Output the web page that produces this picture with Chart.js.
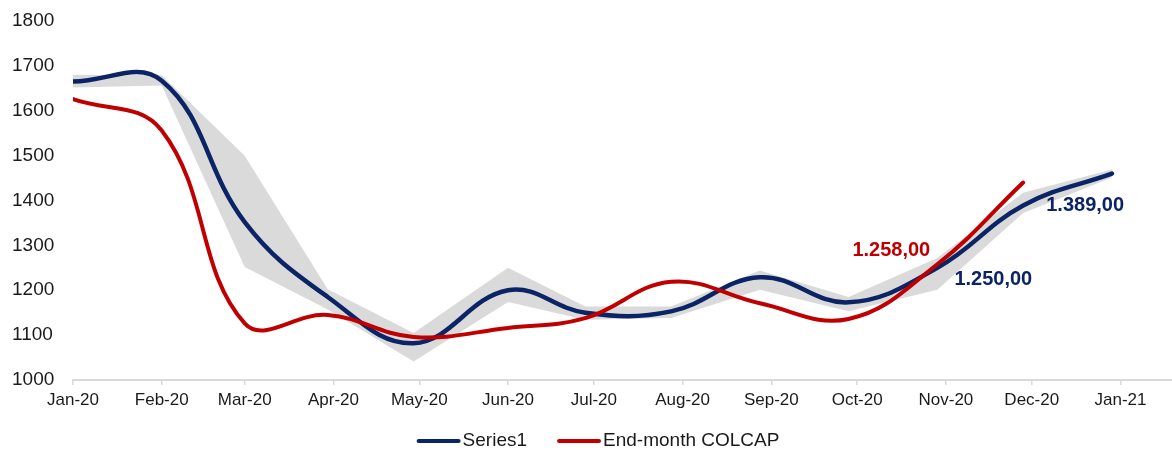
<!DOCTYPE html>
<html>
<head>
<meta charset="utf-8">
<script src="https://cdn.jsdelivr.net/npm/chart.js@4.4.1/dist/chart.umd.min.js"></script>
<style>
  html, body { margin: 0; padding: 0; background: #ffffff; }
  #wrap { width: 1172px; height: 450px; }
</style>
</head>
<body>
<div id="wrap"><canvas id="c" width="1172" height="450"></canvas></div>
<script>
// Observation dates (one per month) shared by every series
const pointDates = ['2020-01-01', '2020-02-01', '2020-03-01', '2020-03-30', '2020-04-29', '2020-06-01',
                    '2020-06-28', '2020-07-28', '2020-08-28', '2020-09-28', '2020-10-29', '2020-11-28', '2020-12-29'];

// Series values
const series1   = [1665, 1667, 1352, 1185, 1082, 1200, 1150, 1153, 1229, 1173, 1250, 1389, 1460];
const colcap    = [1626, 1556, 1126, 1145, 1096, 1116, 1138, 1219, 1171, 1136, 1258, 1440];
const rangeHigh = [1680, 1679, 1500, 1202, 1105, 1250, 1164, 1164, 1244, 1185, 1272, 1417, 1469];
const rangeLow  = [1652, 1656, 1252, 1157, 1041, 1174, 1134, 1138, 1201, 1153, 1201, 1372, 1451];

// Axis ticks
const tickDates  = ['2020-01-01', '2020-02-01', '2020-03-01', '2020-04-01', '2020-05-01', '2020-06-01', '2020-07-01',
                    '2020-08-01', '2020-09-01', '2020-10-01', '2020-11-01', '2020-12-01', '2021-01-01'];
const tickLabels = ['Jan-20', 'Feb-20', 'Mar-20', 'Apr-20', 'May-20', 'Jun-20', 'Jul-20',
                    'Aug-20', 'Sep-20', 'Oct-20', 'Nov-20', 'Dec-20', 'Jan-21'];
const yTicks = [1000, 1100, 1200, 1300, 1400, 1500, 1600, 1700, 1800];
const axisStart = '2020-01-01';
const axisEnd = '2021-01-19';

const NAVY = '#0b2466';
const RED = '#c00000';
const BAND = '#dadada';
const FONT = "'Liberation Sans', Arial, Helvetica, sans-serif";

const dayOf = s => (Date.parse(s) - Date.parse(axisStart)) / 86400000;
const toPoints = vals => vals.map((v, i) => ({ x: dayOf(pointDates[i]), y: v }));
const tickDays = tickDates.map(dayOf);

// Values shown as labels: [dataset index, point index, dx, dy, colour]
const valueLabels = [
  [1, 10, -46, -14, RED],
  [0, 10, 56, 12, NAVY],
  [0, 11, 62, 0, NAVY]
];

const fmt = v => {
  const [intPart, dec] = v.toFixed(2).split('.');
  return intPart.replace(/\B(?=(\d{3})+(?!\d))/g, '.') + ',' + dec;
};

const valueLabelPlugin = {
  id: 'valueLabels',
  afterDatasetsDraw(chart) {
    const ctx = chart.ctx;
    ctx.save();
    ctx.font = 'bold 20px ' + FONT;
    ctx.textAlign = 'center';
    ctx.textBaseline = 'middle';
    valueLabels.forEach(([di, pi, dx, dy, col]) => {
      const el = chart.getDatasetMeta(di).data[pi];
      const v = chart.data.datasets[di].data[pi].y;
      ctx.fillStyle = col;
      ctx.fillText(fmt(v), el.x + dx, el.y + dy);
    });
    ctx.restore();
  }
};

// Legend row under the axis: line sample followed by the series name
const legendPlugin = {
  id: 'lineLegend',
  afterDraw(chart) {
    const ctx = chart.ctx;
    const items = [0, 1].map(i => chart.data.datasets[i]);
    const sample = 44, gapText = 2, gapItem = 30, cy = 441;
    ctx.save();
    ctx.font = '19px ' + FONT;
    ctx.textBaseline = 'middle';
    const widths = items.map(d => sample + gapText + ctx.measureText(d.label).width);
    const total = widths.reduce((a, b) => a + b, 0) + gapItem * (items.length - 1);
    let x = 598 - total / 2;
    items.forEach((d, i) => {
      ctx.strokeStyle = d.borderColor;
      ctx.lineWidth = 4;
      ctx.lineCap = 'round';
      ctx.beginPath();
      ctx.moveTo(x + 2, cy);
      ctx.lineTo(x + sample - 2, cy);
      ctx.stroke();
      ctx.fillStyle = '#1a1a1a';
      ctx.textAlign = 'left';
      ctx.fillText(d.label, x + sample + gapText, cy);
      x += widths[i] + gapItem;
    });
    ctx.restore();
  }
};

new Chart(document.getElementById('c'), {
  type: 'line',
  data: {
    datasets: [
      { label: 'Series1', data: toPoints(series1), borderColor: NAVY, borderWidth: 4.5,
        tension: 0.4, pointRadius: 0, borderCapStyle: 'round', fill: false, order: 1 },
      { label: 'End-month COLCAP', data: toPoints(colcap), borderColor: RED, borderWidth: 4,
        tension: 0.4, pointRadius: 0, borderCapStyle: 'round', fill: false, order: 0 },
      { label: 'High', data: toPoints(rangeHigh), borderWidth: 0, borderColor: BAND, backgroundColor: BAND,
        tension: 0, pointRadius: 0, fill: '+1', order: 2 },
      { label: 'Low', data: toPoints(rangeLow), borderWidth: 0, borderColor: BAND, backgroundColor: BAND,
        tension: 0, pointRadius: 0, fill: false, order: 3 }
    ]
  },
  options: {
    responsive: false,
    animation: false,
    devicePixelRatio: 1,
    layout: { padding: { top: 21, right: 0, bottom: 0, left: 12 } },
    plugins: { legend: { display: false }, tooltip: { enabled: false } },
    scales: {
      x: {
        type: 'linear',
        min: 0,
        max: dayOf(axisEnd),
        afterBuildTicks: s => { s.ticks = tickDays.map(v => ({ value: v })); },
        afterFit: s => { s.height = 70; },
        grid: { display: true, drawOnChartArea: false, drawTicks: true, tickLength: 5, color: '#d9d9d9', lineWidth: 1.5 },
        border: { display: true, color: '#d9d9d9', width: 2 },
        ticks: {
          autoSkip: false, maxRotation: 0, minRotation: 0, padding: 5,
          color: '#1a1a1a', font: { family: FONT, size: 17 },
          callback: v => tickLabels[tickDays.indexOf(v)]
        }
      },
      y: {
        min: 1000,
        max: 1800,
        afterBuildTicks: s => { s.ticks = yTicks.map(v => ({ value: v })); },
        afterFit: s => { s.width = 61; },
        grid: { display: false, drawTicks: false },
        border: { display: false },
        ticks: { padding: 0, crossAlign: 'far', color: '#1a1a1a', font: { family: FONT, size: 19 },
                 callback: v => String(v) }
      }
    }
  },
  plugins: [valueLabelPlugin, legendPlugin]
});
</script>
</body>
</html>
